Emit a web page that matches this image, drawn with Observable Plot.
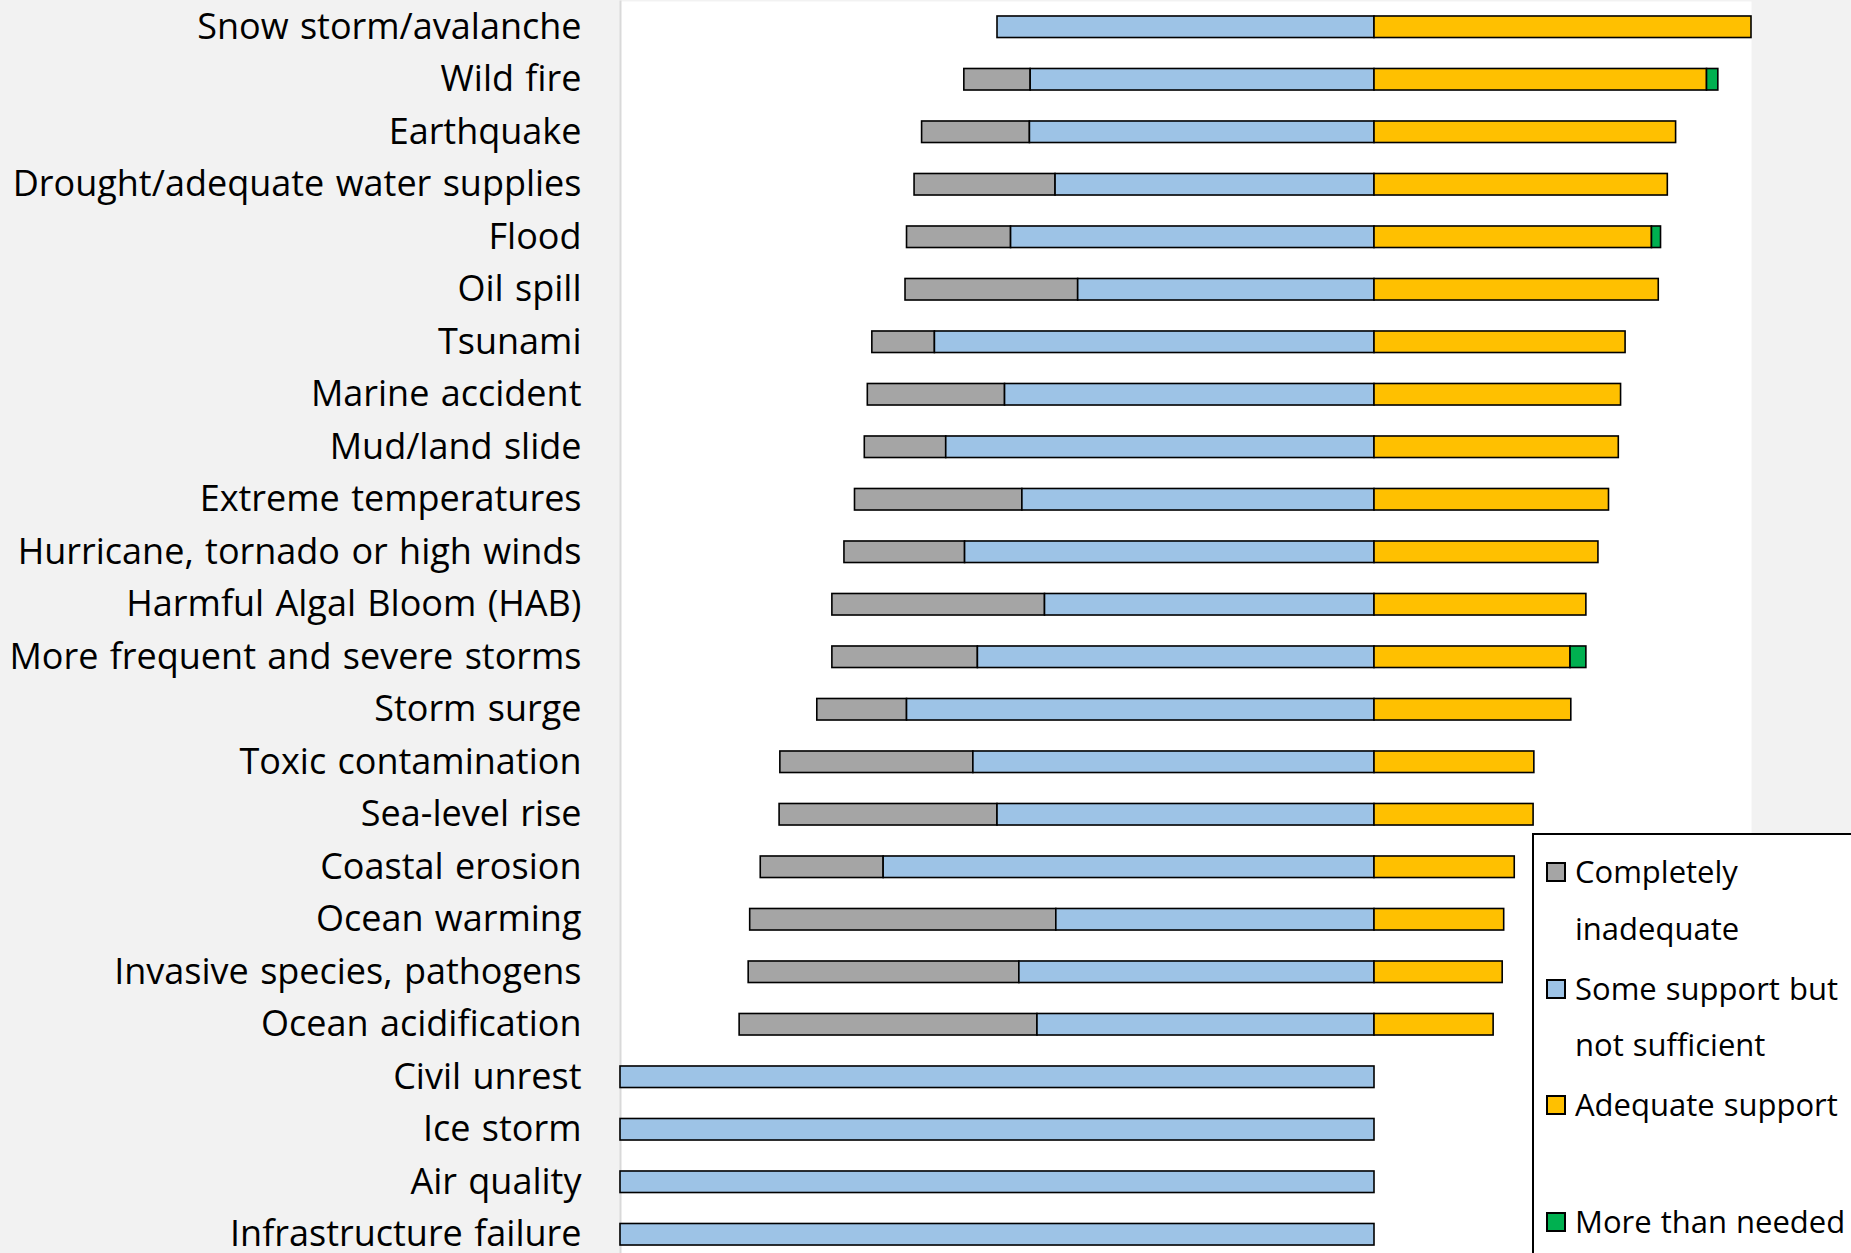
<!DOCTYPE html>
<html>
<head>
<meta charset="utf-8">
<script src="https://cdn.jsdelivr.net/npm/d3@7"></script>
<script src="https://cdn.jsdelivr.net/npm/@observablehq/plot@0.6"></script>
<style>
  html, body { margin: 0; padding: 0; background: #f2f2f2; overflow: hidden; }
  #wrap { position: relative; width: 1851px; height: 1253px; overflow: hidden; font-family: "Open Sans", sans-serif; }
  #legend { position: absolute; left: 1532px; top: 833px; width: 340px; height: 460px; border: 2px solid #000; background: #fff; box-sizing: border-box; }
  .item { position: absolute; left: 12px; }
  .sw { position: absolute; left: 0; top: 19px; width: 16px; height: 16px; border: 2px solid #000; }
  .lab { position: absolute; left: 29px; top: 0; font-size: 31px; line-height: 56.5px; white-space: pre; color: #000; word-spacing: 1px; }
</style>
</head>
<body>
<div id="wrap"></div>
<script>
const hazards = [
  "Snow storm/avalanche", "Wild fire", "Earthquake", "Drought/adequate water supplies",
  "Flood", "Oil spill", "Tsunami", "Marine accident", "Mud/land slide",
  "Extreme temperatures", "Hurricane, tornado or high winds", "Harmful Algal Bloom (HAB)",
  "More frequent and severe storms", "Storm surge", "Toxic contamination", "Sea-level rise",
  "Coastal erosion", "Ocean warming", "Invasive species, pathogens", "Ocean acidification",
  "Civil unrest", "Ice storm", "Air quality", "Infrastructure failure"
];
const completelyInadequate = [0, 8.8, 14.3, 18.7, 13.8, 22.9, 8.3, 18.2, 10.8, 22.2, 16.0, 28.2, 19.3, 11.9, 25.6, 28.9, 16.3, 40.6, 35.9, 39.5, 0, 0, 0, 0];
const someSupport = [50.0, 45.6, 45.7, 42.3, 48.2, 39.3, 58.3, 49.0, 56.8, 46.7, 54.3, 43.7, 52.6, 62.0, 53.2, 50.0, 65.1, 42.2, 47.1, 44.7, 100, 100, 100, 100];
const adequateSupport = [50.0, 44.1, 40.0, 38.9, 36.8, 37.7, 33.3, 32.7, 32.4, 31.1, 29.7, 28.1, 26.0, 26.1, 21.2, 21.1, 18.6, 17.2, 17.0, 15.8, 0, 0, 0, 0];
const moreThanNeeded = [0, 1.5, 0, 0, 1.2, 0, 0, 0, 0, 0, 0, 0, 2.1, 0, 0, 0, 0, 0, 0, 0, 0, 0, 0, 0];

const seriesNames = ["Completely inadequate", "Some support but not sufficient", "Adequate support", "More than needed"];
const legendLabels = ["Completely\ninadequate", "Some support but\nnot sufficient", "Adequate support", "More than needed"];
const seriesColors = ["#a5a5a5", "#9dc3e6", "#ffc000", "#00b050"];
const xDomain = [-100, 50];

const rows = [];
hazards.forEach((h, i) => {
  rows.push({hazard: h, series: seriesNames[0], value: -completelyInadequate[i]});
  rows.push({hazard: h, series: seriesNames[1], value: -someSupport[i]});
  rows.push({hazard: h, series: seriesNames[2], value: adequateSupport[i]});
  rows.push({hazard: h, series: seriesNames[3], value: moreThanNeeded[i]});
});
const data = rows.filter(d => d.value !== 0);

const chart = Plot.plot({
  width: 1851,
  height: 1253,
  marginLeft: 620,
  marginRight: 100,
  marginTop: 1,
  marginBottom: 0,
  style: {background: "#f2f2f2", fontFamily: "'Open Sans', sans-serif", color: "#000", overflow: "hidden"},
  x: {domain: xDomain, axis: null},
  y: {domain: hazards, range: [0.5, 1260.5], paddingInner: 0.59, paddingOuter: 0.295, align: 0.5, round: false},
  color: {domain: seriesNames, range: seriesColors},
  marks: [
    Plot.frame({fill: "white", stroke: null}),
    Plot.frame({anchor: "left", stroke: "#d9d9d9", strokeWidth: 2}),
    Plot.barX(data, Plot.stackX({
      x: "value", y: "hazard", fill: "series",
      order: [seriesNames[1], seriesNames[0], seriesNames[2], seriesNames[3]],
      stroke: "#000", strokeWidth: 1.6
    })),
    Plot.axisY({tickSize: 0, tickPadding: 39, fontSize: 36, label: null, fill: "#000"})
  ]
});
chart.querySelectorAll("g[aria-label='y-axis tick label'] text").forEach(t => t.style.wordSpacing = "2px");

const wrap = document.getElementById("wrap");
wrap.appendChild(chart);

const legend = document.createElement("div");
legend.id = "legend";
legendLabels.forEach((lab, i) => {
  const item = document.createElement("div");
  item.className = "item";
  item.style.top = (8 + i * 116.5) + "px";
  const sw = document.createElement("div");
  sw.className = "sw";
  sw.style.background = seriesColors[i];
  const t = document.createElement("div");
  t.className = "lab";
  t.textContent = lab;
  item.appendChild(sw);
  item.appendChild(t);
  legend.appendChild(item);
});
wrap.appendChild(legend);
</script>
</body>
</html>
